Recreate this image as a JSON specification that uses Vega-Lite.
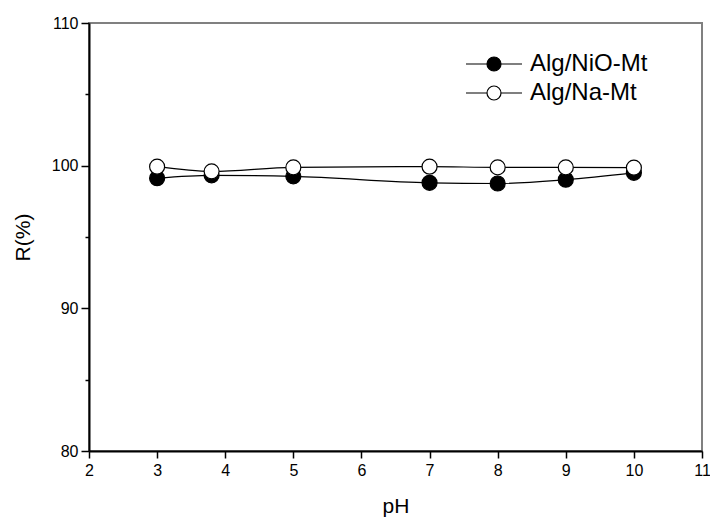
{
  "$schema": "https://vega.github.io/schema/vega-lite/v6.json",
  "width": 613,
  "height": 428,
  "autosize": "none",
  "padding": {"left": 89, "top": 23, "right": 8, "bottom": 67},
  "background": "white",
  "config": {
    "font": "Liberation Sans",
    "view": {"stroke": "#808080", "strokeWidth": 2}
  },
  "data": {
    "values": [
      {"pH": 3, "R": 99.12, "sample": "Alg/NiO-Mt"},
      {"pH": 3.8, "R": 99.32, "sample": "Alg/NiO-Mt"},
      {"pH": 5, "R": 99.25, "sample": "Alg/NiO-Mt"},
      {"pH": 7, "R": 98.8, "sample": "Alg/NiO-Mt"},
      {"pH": 8, "R": 98.75, "sample": "Alg/NiO-Mt"},
      {"pH": 9, "R": 99.02, "sample": "Alg/NiO-Mt"},
      {"pH": 10, "R": 99.5, "sample": "Alg/NiO-Mt"},
      {"pH": 3, "R": 99.93, "sample": "Alg/Na-Mt"},
      {"pH": 3.8, "R": 99.6, "sample": "Alg/Na-Mt"},
      {"pH": 5, "R": 99.88, "sample": "Alg/Na-Mt"},
      {"pH": 7, "R": 99.93, "sample": "Alg/Na-Mt"},
      {"pH": 8, "R": 99.88, "sample": "Alg/Na-Mt"},
      {"pH": 9, "R": 99.88, "sample": "Alg/Na-Mt"},
      {"pH": 10, "R": 99.86, "sample": "Alg/Na-Mt"}
    ]
  },
  "encoding": {
    "x": {
      "field": "pH", "type": "quantitative",
      "scale": {"domain": [2, 11], "nice": false, "zero": false},
      "axis": {
        "title": "pH",
        "format": "d",
        "values": [2, 2.5, 3, 3.5, 4, 4.5, 5, 5.5, 6, 6.5, 7, 7.5, 8, 8.5, 9, 9.5, 10, 10.5, 11],
        "labelExpr": "datum.value % 1 === 0 ? format(datum.value, 'd') : ''",
        "tickSize": {"condition": {"test": "datum.value % 1 !== 0", "value": 4}, "value": 7},
        "grid": false,
        "domainColor": "black", "domainWidth": 2,
        "tickColor": "black", "tickWidth": 1.5,
        "labelFont": "Liberation Sans",
        "labelColor": "black", "labelFontSize": 16, "labelPadding": 4,
        "labelFlush": false, "labelOverlap": false,
        "titleFont": "Liberation Sans",
        "titleFontSize": 21, "titleFontWeight": "normal", "titleColor": "black",
        "titlePadding": 17
      }
    },
    "y": {
      "field": "R", "type": "quantitative",
      "scale": {"domain": [80, 110], "nice": false, "zero": false},
      "axis": {
        "title": "R(%)",
        "format": "d",
        "values": [80, 85, 90, 95, 100, 105, 110],
        "labelExpr": "datum.value % 10 === 0 ? format(datum.value, 'd') : ''",
        "tickSize": {"condition": {"test": "datum.value % 10 !== 0", "value": 4}, "value": 8},
        "grid": false,
        "domainColor": "black", "domainWidth": 2,
        "tickColor": "black", "tickWidth": 1.5,
        "labelFont": "Liberation Sans",
        "labelColor": "black", "labelFontSize": 16, "labelPadding": 3,
        "labelFlush": false, "labelOverlap": false,
        "titleFont": "Liberation Sans",
        "titleFontSize": 21, "titleFontWeight": "normal", "titleColor": "black",
        "titlePadding": 18
      }
    }
  },
  "layer": [
    {
      "mark": {"type": "line", "interpolate": "monotone", "color": "black", "strokeWidth": 1.2},
      "encoding": {"detail": {"field": "sample"}}
    },
    {
      "mark": {"type": "point", "filled": true, "size": 225, "stroke": "black", "strokeWidth": 1.2, "opacity": 1},
      "encoding": {
        "fill": {
          "field": "sample", "type": "nominal",
          "scale": {"domain": ["Alg/NiO-Mt", "Alg/Na-Mt"], "range": ["black", "white"]},
          "legend": {
            "title": null,
            "orient": "none",
            "legendX": 390,
            "legendY": 26,
            "symbolType": "M-2,0H-0.5M0.5,0H2M-0.5,0A0.5,0.5 0 1,1 0.5,0A0.5,0.5 0 1,1 -0.5,0Z",
            "symbolSize": 784,
            "symbolStrokeColor": "black",
            "symbolStrokeWidth": 1.2,
            "symbolOpacity": 1,
            "labelFont": "Liberation Sans",
            "labelFontSize": 24,
            "labelColor": "black",
            "labelOffset": 21,
            "rowPadding": 2
          }
        }
      }
    }
  ]
}
